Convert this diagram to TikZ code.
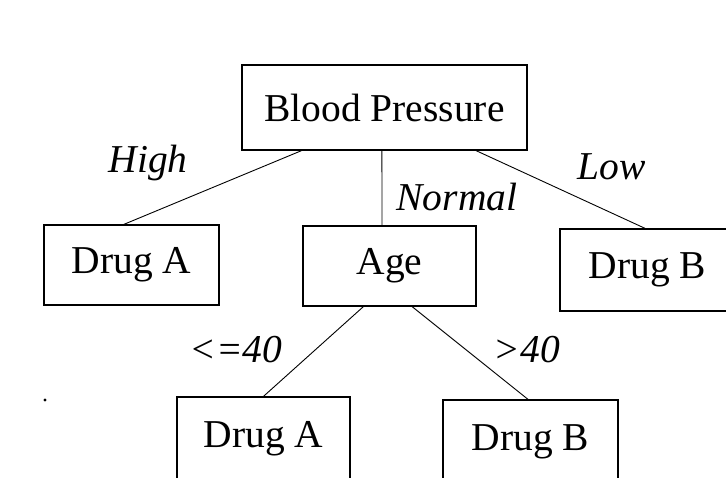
\documentclass[tikz,border=0pt]{standalone}
\usepackage{fontspec}
\setmainfont{Liberation Serif}
\usetikzlibrary{calc}
\tikzset{
  box/.style={draw,line width=1.3pt,minimum width=175pt,minimum height=80pt,
    inner sep=0pt,font=\fontsize{39.5}{44}\selectfont},
  branch/.style={line width=0.9pt},
  lbl/.style={inner sep=0pt,font=\fontsize{39.5}{44}\selectfont\itshape}
}

\begin{document}
\begin{tikzpicture}[x=1pt,y=-1pt]
\useasboundingbox (0,0) rectangle (726,477);
\clip (0,0) rectangle (726,477);
\node[box,minimum width=285pt,minimum height=85pt] (root) at (384.5,107.5) {Blood Pressure};
\node[box] (druga) at (131.5,265) {Drug A};
\node[box,minimum width=173pt] (age) at (389.5,266) {Age};
\node[box,minimum height=82pt] (drugb) at (647.5,270) {Drug B};
\node[box,minimum width=173pt,minimum height=84pt] (agea) at (263.5,439) {Drug A};
\node[box,minimum height=84pt] (ageb) at (530.5,442) {Drug B};
\draw[branch] ($(root.south west)!0.21!(root.south east)$) --
  ($(druga.north west)!0.457!(druga.north east)$);
\draw[branch] ($(root.south west)!0.491!(root.south east)$) --
  ($(age.north west)!0.457!(age.north east)$);
\draw[branch] ($(root.south west)!0.82!(root.south east)$) --
  ($(drugb.north west)!0.486!(drugb.north east)$);
\draw[branch] ($(age.south west)!0.35!(age.south east)$) --
  ($(agea.north west)!0.5!(agea.north east)$);
\draw[branch] ($(age.south west)!0.63!(age.south east)$) --
  ($(ageb.north west)!0.486!(ageb.north east)$);
\node[lbl] (high) at (148,163) {High};
\node[lbl] (normal) at (457,197) {Normal};
\node[lbl] (low) at (612,167) {Low};
\node[lbl] (young) at (236,350) {<=40};
\node[lbl] (old) at (527,350) {>40};
\fill (45,400) circle (1.6pt);
\end{tikzpicture}
\end{document}
